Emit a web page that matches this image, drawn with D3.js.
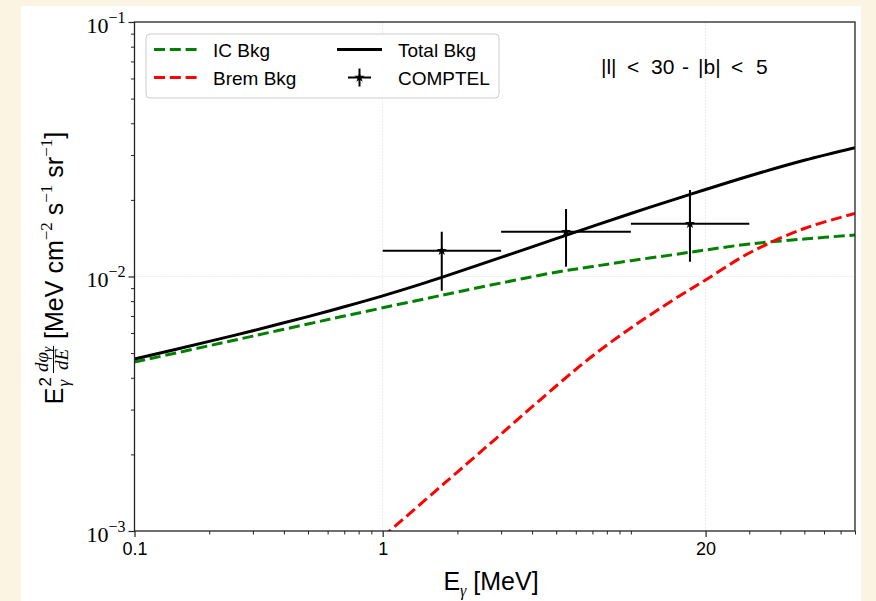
<!DOCTYPE html>
<html><head><meta charset="utf-8">
<script src="https://cdn.jsdelivr.net/npm/d3@7"></script>
<style>
html,body{margin:0;padding:0;background:#FBF4E2;}
svg{display:block;}
</style></head>
<body>
<svg id="chart" width="876" height="601"></svg>
<script>
// ---------------- data ----------------
const energy   = [0.1, 0.2, 0.3, 0.5, 0.7, 1, 1.5, 2, 3, 5, 7, 10, 15, 20, 30, 50, 80];
const icBkg    = [0.004613, 0.005346, 0.005832, 0.006508, 0.006990, 0.007534, 0.008195, 0.008691, 0.009429,
                  0.01040, 0.01094, 0.01154, 0.01220, 0.01271, 0.01342, 0.01404, 0.01456];
const totalBkg = [0.004740, 0.005559, 0.006124, 0.006958, 0.007601, 0.008391, 0.009480, 0.01040, 0.01189,
                  0.01408, 0.01574, 0.01768, 0.02010, 0.02197, 0.02483, 0.02862, 0.03208];
const bremEnergy = [1, 1.5, 2, 3, 5, 7, 10, 15, 20, 30, 50, 80];
const bremBkg    = [0.000947, 0.001336, 0.001705, 0.002404, 0.003713, 0.004871, 0.006275, 0.008157,
                    0.009687, 0.01237, 0.01544, 0.01768];
const comptelE      = [1.73, 5.48, 17.3];
const comptelELo    = [1, 3, 10];
const comptelEHi    = [3, 10, 30];
const comptelFlux   = [0.01263, 0.01500, 0.01613];
const comptelFluxLo = [0.00879, 0.01093, 0.01143];
const comptelFluxHi = [0.01500, 0.01842, 0.02188];
const xTicks = [0.1, 1, 20];
const xTickLabels = ["0.1", "1", "20"];
const yTicks = [1e-3, 1e-2, 1e-1];
const yTickExp = ["\u22123", "\u22122", "\u22121"];
const legendLabels = ["IC Bkg", "Brem Bkg", "Total Bkg", "COMPTEL"];
const regionText = ["|l|", "<", "30", "-", "|b|", "<", "5"];

// ---------------- layout ----------------
const W = 876, H = 601;
const L = 134.5, R = 855, T = 22, B = 531;
const sans = "Liberation Sans", serif = "Liberation Serif";
const svg = d3.select("#chart");
svg.append("rect").attr("width", W).attr("height", H).attr("fill", "#FBF4E2");
svg.append("rect").attr("x", 21).attr("y", 6).attr("width", 840).attr("height", 595).attr("fill", "#ffffff");

const x = d3.scaleLog().domain([0.1, 80]).range([L, R]);
const y = d3.scaleLog().domain([1e-3, 1e-1]).range([B, T]);

// grid
const grid = svg.append("g");
[1, 20].forEach(v => grid.append("line").attr("x1", x(v)).attr("x2", x(v)).attr("y1", T).attr("y2", B)
  .attr("stroke", "#ececec").attr("stroke-width", 1).attr("stroke-dasharray", "2,1"));
[1e-2].forEach(v => grid.append("line").attr("x1", L).attr("x2", R).attr("y1", y(v)).attr("y2", y(v))
  .attr("stroke", "#ececec").attr("stroke-width", 1).attr("stroke-dasharray", "2,1"));

// clip
svg.append("clipPath").attr("id", "clip").append("rect")
  .attr("x", L).attr("y", T).attr("width", R - L).attr("height", B - T);
const plot = svg.append("g").attr("clip-path", "url(#clip)");

const line = d3.line().x(d => x(d[0])).y(d => y(d[1])).curve(d3.curveCatmullRom.alpha(0.5));
const dash = "11,4.8", lw = 3;
plot.append("path").attr("d", line(energy.map((e, i) => [e, icBkg[i]])))
  .attr("fill", "none").attr("stroke", "#008000").attr("stroke-width", lw).attr("stroke-dasharray", dash);
plot.append("path").attr("d", line(bremEnergy.map((e, i) => [e, bremBkg[i]])))
  .attr("fill", "none").attr("stroke", "#ff0000").attr("stroke-width", lw).attr("stroke-dasharray", dash);
plot.append("path").attr("d", line(energy.map((e, i) => [e, totalBkg[i]])))
  .attr("fill", "none").attr("stroke", "#000").attr("stroke-width", lw);

// COMPTEL points
const pts = plot.append("g");
comptelE.forEach((e, i) => {
  pts.append("line").attr("x1", x(comptelELo[i])).attr("x2", x(comptelEHi[i]))
    .attr("y1", y(comptelFlux[i])).attr("y2", y(comptelFlux[i])).attr("stroke", "#000").attr("stroke-width", 2);
  pts.append("line").attr("x1", x(e)).attr("x2", x(e))
    .attr("y1", y(comptelFluxLo[i])).attr("y2", y(comptelFluxHi[i])).attr("stroke", "#000").attr("stroke-width", 2);
  pts.append("path").attr("d", d3.symbol().type(d3.symbolStar).size(32)())
    .attr("transform", `translate(${x(e)},${y(comptelFlux[i])})`).attr("fill", "#000");
});

// spines
svg.append("rect").attr("x", L).attr("y", T).attr("width", R - L).attr("height", B - T)
  .attr("fill", "none").attr("stroke", "#222").attr("stroke-width", 1.3);

// minor tick positions
function minors(lo, hi, majors) {
  const out = [];
  for (let d = Math.floor(Math.log10(lo)); d <= Math.ceil(Math.log10(hi)); d++) {
    for (let m = 1; m <= 9; m++) {
      const v = m * Math.pow(10, d);
      if (v >= lo * 0.999 && v <= hi * 1.001 && !majors.some(t => Math.abs(t - v) / v < 1e-6)) out.push(v);
    }
  }
  return out;
}

// x axis
const gX = svg.append("g").attr("transform", `translate(0,${B})`)
  .call(d3.axisBottom(x).tickValues(xTicks).tickFormat((d, i) => xTickLabels[i]).tickSize(6).tickPadding(5));
gX.select(".domain").remove();
gX.selectAll("line").attr("stroke", "#222").attr("stroke-width", 1.2);
gX.selectAll("text").attr("font-family", sans).attr("font-size", 18).attr("fill", "#000");
const gXm = svg.append("g").attr("transform", `translate(0,${B})`)
  .call(d3.axisBottom(x).tickValues(minors(0.1, 80, xTicks)).tickFormat("").tickSize(3.5));
gXm.select(".domain").remove();
gXm.selectAll("line").attr("stroke", "#222").attr("stroke-width", 1);

// y axis
const gY = svg.append("g").attr("transform", `translate(${L},0)`)
  .call(d3.axisLeft(y).tickValues(yTicks).tickFormat("").tickSize(6));
gY.select(".domain").remove();
gY.selectAll("line").attr("stroke", "#222").attr("stroke-width", 1.2);
gY.selectAll(".tick").each(function (d, i) {
  const t = d3.select(this).append("text").attr("x", -9).attr("y", 10).attr("text-anchor", "end")
    .attr("font-family", serif).attr("font-size", 22).attr("fill", "#000").text("10");
  t.append("tspan").attr("dy", -10).attr("font-size", 16).text(yTickExp[i]);
});
const gYm = svg.append("g").attr("transform", `translate(${L},0)`)
  .call(d3.axisLeft(y).tickValues(minors(1e-3, 1e-1, yTicks)).tickFormat("").tickSize(3.5));
gYm.select(".domain").remove();
gYm.selectAll("line").attr("stroke", "#222").attr("stroke-width", 1);

// x label
const xl = svg.append("text").attr("x", 491).attr("y", 590).attr("text-anchor", "middle")
  .attr("font-family", sans).attr("font-size", 25).attr("fill", "#000");
xl.append("tspan").text("E");
xl.append("tspan").attr("dy", 6).attr("font-size", 16).attr("font-family", serif).attr("font-style", "italic").text("\u03b3");
xl.append("tspan").attr("dy", -6).text(" [MeV]");

// y label (rotated)
const ylOuter = svg.append("g").attr("transform", "translate(63,0) rotate(-90)");
const yl = ylOuter.append("g");
let cx = 0;
const tE = yl.append("text").attr("x", cx).attr("y", 0).attr("font-family", sans).attr("font-size", 25).text("E");
cx += tE.node().getComputedTextLength() + 1;
const tS2 = yl.append("text").attr("x", cx).attr("y", -12).attr("font-family", sans).attr("font-size", 17).text("2");
const tSg = yl.append("text").attr("x", cx).attr("y", 6).attr("font-family", serif).attr("font-style", "italic").attr("font-size", 17).text("\u03b3");
cx += Math.max(tS2.node().getComputedTextLength(), tSg.node().getComputedTextLength()) + 4;
const num = yl.append("text").attr("y", -15).attr("text-anchor", "middle").attr("font-family", serif).attr("font-style", "italic").attr("font-size", 19);
num.append("tspan").text("d\u03c6");
num.append("tspan").attr("dy", 3).attr("font-size", 13).text("\u03b3");
const den = yl.append("text").attr("y", 5).attr("text-anchor", "middle").attr("font-family", serif).attr("font-style", "italic").attr("font-size", 19).text("dE");
const fw = Math.max(num.node().getComputedTextLength(), den.node().getComputedTextLength()) + 2;
num.attr("x", cx + fw / 2); den.attr("x", cx + fw / 2);
yl.append("line").attr("x1", cx).attr("x2", cx + fw).attr("y1", -9.5).attr("y2", -9.5).attr("stroke", "#000").attr("stroke-width", 1);
cx += fw + 7;
const rest = yl.append("text").attr("x", cx).attr("y", 0).attr("font-family", sans).attr("font-size", 25).attr("fill", "#000");
const pieces = [["[MeV cm", false], ["\u22122", true], [" s", false], ["\u22121", true], [" sr", false], ["\u22121", true], ["]", false]];
let up = false;
pieces.forEach(([s, sup]) => {
  const ts = rest.append("tspan").text(s);
  if (sup) { ts.attr("dy", -11).attr("font-size", 17).attr("font-family", serif); up = true; }
  else if (up) { ts.attr("dy", 11); up = false; }
});
cx += rest.node().getComputedTextLength();
yl.attr("transform", `translate(${-268 - cx / 2},0)`);

// region text
const regX = [601, 627, 651, 682, 698, 731, 756];
const rt = svg.append("text").attr("y", 74).attr("font-family", sans).attr("font-size", 21).attr("fill", "#000");
regionText.forEach((s, i) => rt.append("tspan").attr("x", regX[i]).text(s));

// legend
const lg = svg.append("g");
lg.append("rect").attr("x", 146).attr("y", 34).attr("width", 353).attr("height", 64).attr("rx", 4)
  .attr("fill", "#fff").attr("fill-opacity", 0.8).attr("stroke", "#cccccc").attr("stroke-width", 1);
const rowY = [49.5, 77.5];
lg.append("line").attr("x1", 154).attr("x2", 197).attr("y1", rowY[0]).attr("y2", rowY[0])
  .attr("stroke", "#008000").attr("stroke-width", lw).attr("stroke-dasharray", dash);
lg.append("line").attr("x1", 154).attr("x2", 197).attr("y1", rowY[1]).attr("y2", rowY[1])
  .attr("stroke", "#ff0000").attr("stroke-width", lw).attr("stroke-dasharray", dash);
lg.append("line").attr("x1", 337).attr("x2", 382).attr("y1", rowY[0]).attr("y2", rowY[0])
  .attr("stroke", "#000").attr("stroke-width", lw);
lg.append("line").attr("x1", 348).attr("x2", 371).attr("y1", rowY[1]).attr("y2", rowY[1]).attr("stroke", "#000").attr("stroke-width", 2);
lg.append("line").attr("x1", 359.5).attr("x2", 359.5).attr("y1", rowY[1] - 9).attr("y2", rowY[1] + 9).attr("stroke", "#000").attr("stroke-width", 2);
lg.append("path").attr("d", d3.symbol().type(d3.symbolStar).size(32)()).attr("transform", `translate(359.5,${rowY[1]})`);
[[213, rowY[0]], [213, rowY[1]], [398, rowY[0]], [398, rowY[1]]].forEach(([lx, ly], i) => {
  lg.append("text").attr("x", lx).attr("y", ly + 7.5).attr("font-family", sans).attr("font-size", 19)
    .attr("fill", "#000").text(legendLabels[i]);
});
</script>
</body></html>
